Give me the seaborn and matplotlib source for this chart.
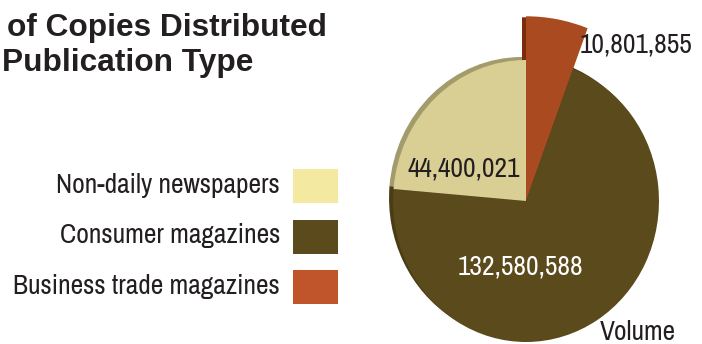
import matplotlib
matplotlib.use("Agg")
import matplotlib.pyplot as plt
import seaborn as sns
from matplotlib.transforms import Affine2D
from matplotlib.patches import Rectangle

# ---- data ----
categories = ["Non-daily newspapers", "Consumer magazines", "Business trade magazines"]
values = [44400021, 132580588, 10801855]
value_labels = ["44,400,021", "132,580,588", "10,801,855"]
title_lines = ["of Copies Distributed", "Publication Type"]
measure_label = "Volume"
legend_colors = ["#f4e9a0", "#5b4a1c", "#c0542a"]
pie_colors = ["#d9cf94", "#5b4a1c", "#a94a20"]
rim_colors = ["#a29b6b", "#4a3c14", "#7a2c0c"]

NARROW = ["Archivo Narrow", "DejaVu Sans"]
BOLD = ["Liberation Sans", "DejaVu Sans"]

sns.set_theme(style="white")
plt.rcParams["font.family"] = NARROW

fig = plt.figure(figsize=(7.02, 3.44), dpi=100)
ax = fig.add_axes([0, 0, 1, 1])
renderer = fig.canvas.get_renderer()


def fit_size(text, width_px, family, weight="normal"):
    t = fig.text(0, 0, text, fontsize=20, family=family, fontweight=weight)
    w = t.get_window_extent(renderer).width
    t.remove()
    return 20 * width_px / w


cx, cy, R = 526, 201, 141
sx = 0.943
order = [2, 1, 0]  # clockwise from 12 o'clock: business, consumer, non-daily
vals = [values[i] for i in order]


def draw_pie(colors, offsets, z):
    wedges, _ = ax.pie(vals, colors=[colors[i] for i in order], startangle=270,
                       counterclock=True, radius=R, center=(cx, cy),
                       frame=True, wedgeprops=dict(linewidth=0))
    for w, (dx, dy) in zip(wedges, offsets):
        tr = (Affine2D().translate(-cx, -cy).scale(sx, 1).translate(cx + dx, cy + dy))
        w.set_transform(tr + ax.transData)
        w.set_zorder(z)
    wedges[0].set_radius(R * 1.31)
    return wedges


# side "rim" of the pseudo-3D pie, then the top faces
draw_pie(rim_colors, [(-4, 1), (-4, -3), (-4, -3)], 1)
main = draw_pie(pie_colors, [(0, 0), (0, 0), (0, 0)], 2)

ax.set_aspect("auto")
ax.set_xlim(0, 702)
ax.set_ylim(344, 0)
ax.axis("off")

# title (cropped in the original)
fs_title = fit_size(title_lines[0], 320, BOLD, "bold")
ax.text(7, 36, title_lines[0], fontsize=fs_title, fontweight="bold",
        family=BOLD, color="#231f20", va="baseline", ha="left")
ax.text(2, 71, title_lines[1], fontsize=fs_title, fontweight="bold",
        family=BOLD, color="#231f20", va="baseline", ha="left")

# value labels
fs_val = fit_size(value_labels[1], 125, NARROW)
ax.text(692, 52, value_labels[2], fontsize=fs_val, color="#231f20", va="baseline", ha="right", zorder=5)
ax.text(464, 177, value_labels[0], fontsize=fs_val, color="#231f20", va="baseline", ha="center", zorder=5)
ax.text(520, 275, value_labels[1], fontsize=fs_val, color="white", va="baseline", ha="center", zorder=5)
ax.text(600, 340, measure_label, fontsize=fs_val, color="#231f20", va="baseline", ha="left", zorder=5)

# legend (labels on the left, swatches on the right)
fs_leg = fit_size(categories[2], 267, NARROW)
for i, (lab, col) in enumerate(zip(categories, legend_colors)):
    top = 169 + i * 50.5
    ax.add_patch(Rectangle((293, top), 45, 34, facecolor=col, edgecolor="none", zorder=3))
    ax.text(280, top + 24, lab, fontsize=fs_leg, color="#231f20", va="baseline", ha="right")

fig.savefig("out.png", dpi=100)
